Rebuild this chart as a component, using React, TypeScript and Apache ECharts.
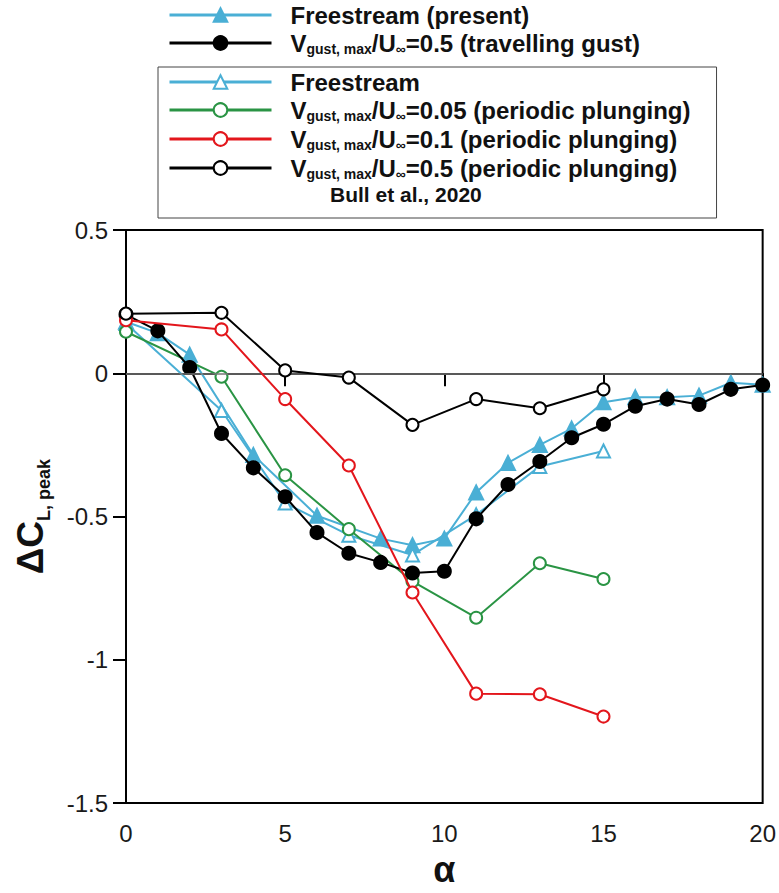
import React, { useEffect, useRef } from 'react';
import * as echarts from 'echarts';

const presentAlpha = [0, 1, 2, 4, 6, 8, 9, 10, 11, 12, 13, 14, 15, 16, 17, 18, 19, 20];
const presentDCL = [0.18, 0.14, 0.065, -0.285, -0.497, -0.577, -0.6, -0.577, -0.416, -0.313, -0.25, -0.193, -0.101, -0.084, -0.084, -0.078, -0.033, -0.04];

const travelAlpha = [0, 1, 2, 3, 4, 5, 6, 7, 8, 9, 10, 11, 12, 13, 14, 15, 16, 17, 18, 19, 20];
const travelDCL = [0.205, 0.148, 0.02, -0.21, -0.33, -0.431, -0.556, -0.628, -0.66, -0.697, -0.691, -0.508, -0.388, -0.308, -0.225, -0.178, -0.115, -0.09, -0.109, -0.056, -0.041];

const bullAlpha = [0, 3, 5, 7, 9, 11, 13, 15];
const bullFreestream = [0.174, -0.13, -0.453, -0.565, -0.634, -0.494, -0.325, -0.271];
const bull005 = [0.145, -0.012, -0.356, -0.544, -0.726, -0.853, -0.663, -0.718];
const bull01 = [0.185, 0.153, -0.09, -0.322, -0.765, -1.118, -1.12, -1.198];
const bull05 = [0.208, 0.211, 0.01, -0.015, -0.18, -0.09, -0.122, -0.056];

const seriesNames = [
  'Freestream (present)',
  'Vgust, max/U∞=0.5 (travelling gust)',
  'Freestream',
  'Vgust, max/U∞=0.05 (periodic plunging)',
  'Vgust, max/U∞=0.1 (periodic plunging)',
  'Vgust, max/U∞=0.5 (periodic plunging)',
];
const legendRich = [
  '{sp|}{b|Freestream (present)}',
  '{sp|}{b|V}{s|gust, max}{b|/U}{s|∞}{b|=0.5 (travelling gust)}',
  '{sp|}{b|Freestream}',
  '{sp|}{b|V}{s|gust, max}{b|/U}{s|∞}{b|=0.05 (periodic plunging)}',
  '{sp|}{b|V}{s|gust, max}{b|/U}{s|∞}{b|=0.1 (periodic plunging)}',
  '{sp|}{b|V}{s|gust, max}{b|/U}{s|∞}{b|=0.5 (periodic plunging)}',
];
const sourceNote = 'Bull et al., 2020';

const BLUE = '#4aafd5';
const GREEN = '#2a9444';
const RED = '#e3161c';
const BLACK = '#000000';
const FONT = 'Liberation Sans, Arial, sans-serif';

const pairs = (xs: number[], ys: number[]) => xs.map((x, i) => [x, ys[i]]);

export default function App() {
  const ref = useRef<HTMLDivElement>(null);
  useEffect(() => {
    if (!ref.current) return;
    const chart = echarts.init(ref.current, null, { renderer: 'svg' });
    const richStyles = {
      sp: { width: 14 },
      b: { fontSize: 24, fontWeight: 'bold', lineHeight: 26, fontFamily: FONT, color: '#111' },
      s: { fontSize: 14, fontWeight: 'bold', lineHeight: 8, verticalAlign: 'bottom', fontFamily: FONT, color: '#111' },
    };
    const fmt = (name: string) => legendRich[seriesNames.indexOf(name)];
    const mk = (i: number, xs: number[], ys: number[], color: string, symbol: string, size: number, z: number) => ({
      name: seriesNames[i],
      type: 'line',
      data: pairs(xs, ys),
      symbol,
      symbolSize: size,
      showAllSymbol: true,
      z,
      lineStyle: { color, width: 2 },
      itemStyle: { color, borderColor: color, borderWidth: 2 },
    });
    chart.setOption({
      animation: false,
      grid: { left: 126, right: 13, top: 230, bottom: 81, show: true, borderColor: '#000', borderWidth: 2, backgroundColor: 'transparent' },
      legend: [
        {
          orient: 'vertical', left: 168, top: 3, padding: 0,
          itemWidth: 102, itemHeight: 17, itemGap: 4,
          data: [seriesNames[0], seriesNames[1]],
          formatter: fmt,
          lineStyle: { width: 3 },
          textStyle: { fontFamily: FONT, fontSize: 24, fontWeight: 'bold', color: '#111', rich: richStyles },
          selectedMode: false,
        },
        {
          orient: 'vertical', left: 158, top: 67, padding: [3, 26, 37, 10],
          borderColor: '#444', borderWidth: 1,
          itemWidth: 102, itemHeight: 17, itemGap: 4,
          data: [seriesNames[2], seriesNames[3], seriesNames[4], seriesNames[5]],
          formatter: fmt,
          lineStyle: { width: 3 },
          textStyle: { fontFamily: FONT, fontSize: 24, fontWeight: 'bold', color: '#111', rich: richStyles },
          selectedMode: false,
        },
      ],
      graphic: [
        {
          type: 'text', left: 330, top: 184,
          style: { text: sourceNote, fontFamily: FONT, fontSize: 21, fontWeight: 'bold', fill: '#111' },
        },
      ],
      xAxis: {
        type: 'value', min: 0, max: 20, interval: 5,
        name: 'α', nameLocation: 'middle', nameGap: 39,
        nameTextStyle: { fontFamily: FONT, fontSize: 36, fontWeight: 'bold', color: '#111', lineHeight: 38 },
        axisLine: { show: true, lineStyle: { color: '#000', width: 2 } },
        axisTick: { show: true, length: 13, lineStyle: { color: '#000', width: 2 } },
        axisLabel: { margin: 18, fontFamily: FONT, fontSize: 24, color: '#1a1a1a' },
        splitLine: { show: false },
      },
      yAxis: {
        type: 'value', min: -1.5, max: 0.5, interval: 0.5,
        name: '{m|ΔC}{s|L, peak}', nameLocation: 'middle', nameGap: 73, nameRotate: 90,
        nameTextStyle: {
          rich: {
            m: { fontFamily: FONT, fontSize: 37, fontWeight: 'bold', color: '#111', lineHeight: 46 },
            s: { fontFamily: FONT, fontSize: 18, fontWeight: 'bold', color: '#111', lineHeight: 10, verticalAlign: 'bottom' },
          },
        },
        axisLine: { show: true, lineStyle: { color: '#000', width: 2 } },
        axisTick: { show: true, length: 13, lineStyle: { color: '#000', width: 2 } },
        axisLabel: { margin: 18, fontFamily: FONT, fontSize: 24, color: '#1a1a1a' },
        splitLine: { show: false },
      },
      series: [
        {
          name: 'zero', type: 'line', data: [], z: 1, silent: true,
          markLine: {
            silent: true, symbol: ['none', 'none'], label: { show: false },
            lineStyle: { color: '#777', width: 1.5, type: 'solid' },
            data: [{ yAxis: 0 }],
          },
        },
        mk(0, presentAlpha, presentDCL, BLUE, 'triangle', 14, 3),
        mk(1, travelAlpha, travelDCL, BLACK, 'circle', 13, 4),
        mk(2, bullAlpha, bullFreestream, BLUE, 'emptyTriangle', 13, 3),
        mk(3, bullAlpha, bull005, GREEN, 'emptyCircle', 12, 3),
        mk(4, bullAlpha, bull01, RED, 'emptyCircle', 12, 5),
        mk(5, bullAlpha, bull05, BLACK, 'emptyCircle', 12, 5),
      ],
    });
    return () => chart.dispose();
  }, []);
  return <div ref={ref} style={{ position: 'fixed', left: 0, top: 0, width: 779, height: 893, background: '#fff' }} />;
}
